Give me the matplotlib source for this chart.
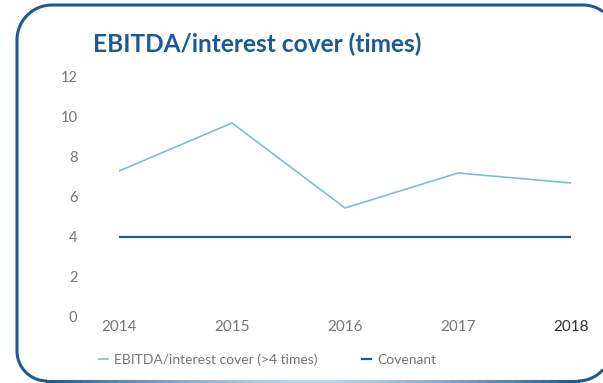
import numpy as np
import matplotlib.pyplot as plt
from matplotlib.collections import LineCollection
from matplotlib.colors import to_rgb
from matplotlib.patches import Rectangle

years = ["2014", "2015", "2016", "2017", "2018"]
cover = [7.3, 9.7, 5.45, 7.2, 6.7]
covenant = [4, 4, 4, 4, 4]
y_ticks = [0, 2, 4, 6, 8, 10, 12]

DARK = "#1b5a96"
LIGHT = "#7dbfd0"
GREY = "#767676"

plt.rcParams["font.family"] = ["Lato", "DejaVu Sans"]

fig = plt.figure(figsize=(6.03, 3.83), dpi=100)

# background axes in pixel units (y down) for the panel frame
bg = fig.add_axes([0, 0, 1, 1])
bg.set_xlim(0, 603)
bg.set_ylim(383, 0)
bg.axis("off")


def arc(cx, cy, r, t0, t1, n=40):
    t = np.radians(np.linspace(t0, t1, n))
    return cx + r * np.cos(t), cy - r * np.sin(t)


# frame: open on the right, corners rounded, kept inside the canvas
pieces = [
    arc(583, 38, 33, 52.7, 90),
    (np.array([583, 52]), np.array([5, 5])),
    arc(52, 40, 35, 90, 180),
    (np.array([17, 17]), np.array([40, 351])),
    arc(47, 351, 30, 180, 270),
]
fx = np.concatenate([p[0] for p in pieces])
fy = np.concatenate([p[1] for p in pieces])
bg.plot(fx, fy, color=DARK, linewidth=2.2, solid_capstyle="butt")
brx, bry = arc(578, 348, 33, 270, 319.3)
bg.plot(brx, bry, color=DARK, linewidth=2.2, solid_capstyle="butt")

# bottom edge fades towards the middle
bx = np.linspace(47, 578, 60)
by = np.full_like(bx, 381.0)
segs = np.stack([np.column_stack([bx[:-1], by[:-1]]),
                 np.column_stack([bx[1:], by[1:]])], axis=1)
mid = (bx[:-1] + bx[1:]) / 2
w = np.clip(np.abs(mid - 312) / 265, 0, 1) ** 1.5
dark = np.array(to_rgb(DARK))
pale = np.array(to_rgb("#b9d6e8"))
cols = pale + (dark - pale) * w[:, None]
bg.add_collection(LineCollection(segs, colors=cols, linewidths=2.2,
                                 capstyle="projecting"))

# keep the right margin clean between the corners
bg.add_patch(Rectangle((594, 40), 10, 310, facecolor="white",
                       edgecolor="none", zorder=5))

fig.text(93 / 603, 1 - 52 / 383, "EBITDA/interest cover (times)",
         fontsize=17.6, fontweight="bold", color=DARK, va="baseline")

ax = fig.add_axes([119 / 603, 1 - 317 / 383, (571 - 119) / 603, 240 / 383])
x = range(len(years))
ax.plot(x, cover, color=LIGHT, linewidth=1.2,
        label="EBITDA/interest cover (>4 times)")
ax.plot(x, covenant, color=DARK, linewidth=1.6, label="Covenant")

ax.set_ylim(0, 12)
ax.set_xlim(0, 4)
ax.set_yticks(y_ticks)
ax.set_yticklabels([str(v) for v in y_ticks], fontsize=10.5, color=GREY)
ax.set_xticks(list(x))
ax.set_xticklabels(years, fontsize=11, color=GREY)
ax.get_xticklabels()[-1].set_color("#333333")
ax.tick_params(length=0, axis="y", pad=30)
ax.tick_params(length=0, axis="x", pad=2)
for s in ax.spines.values():
    s.set_visible(False)
ax.patch.set_alpha(0)

leg = fig.legend(loc="lower left", bbox_to_anchor=(86 / 603, 1 - 378 / 383),
                 ncol=2, frameon=False, fontsize=10, handlelength=0.7,
                 handletextpad=0.4, columnspacing=3.2)
for t in leg.get_texts():
    t.set_color(GREY)

fig.savefig("out.png", dpi=100)
